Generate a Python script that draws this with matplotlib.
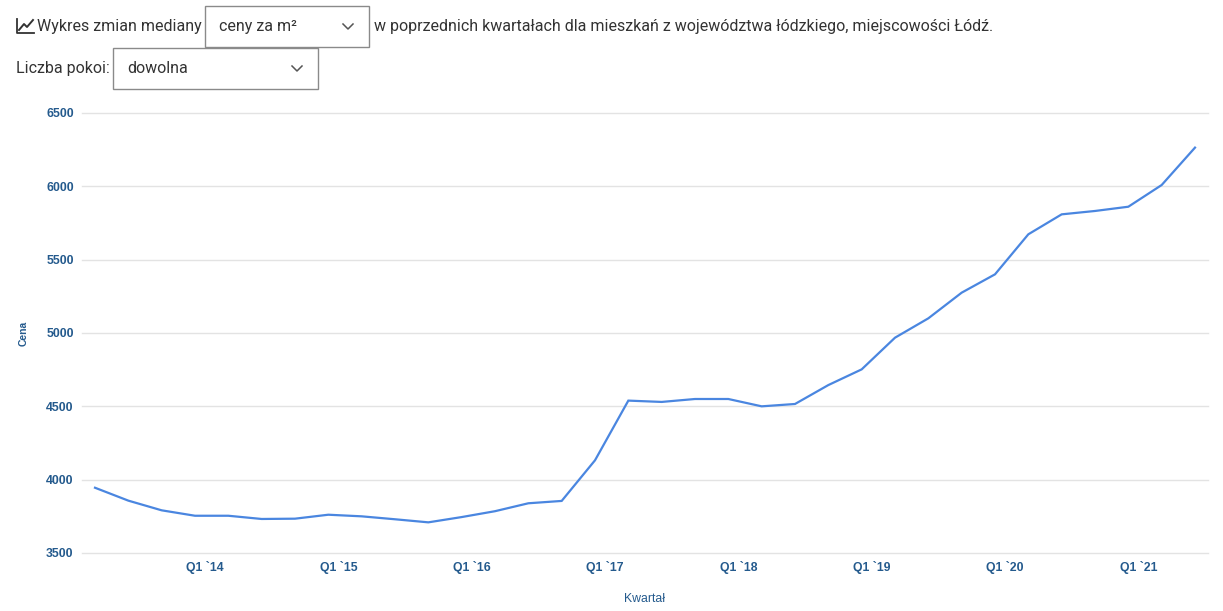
import matplotlib

matplotlib.use("Agg")
import matplotlib.pyplot as plt
from matplotlib.lines import Line2D
from matplotlib.patches import Rectangle

W, H = 1223, 611

quarters = [
    "Q2 `13", "Q3 `13", "Q4 `13",
    "Q1 `14", "Q2 `14", "Q3 `14", "Q4 `14",
    "Q1 `15", "Q2 `15", "Q3 `15", "Q4 `15",
    "Q1 `16", "Q2 `16", "Q3 `16", "Q4 `16",
    "Q1 `17", "Q2 `17", "Q3 `17", "Q4 `17",
    "Q1 `18", "Q2 `18", "Q3 `18", "Q4 `18",
    "Q1 `19", "Q2 `19", "Q3 `19", "Q4 `19",
    "Q1 `20", "Q2 `20", "Q3 `20", "Q4 `20",
    "Q1 `21", "Q2 `21", "Q3 `21",
]
median_price = [
    3945, 3857, 3791,
    3754, 3754, 3732, 3734,
    3761, 3750, 3730, 3709,
    3745, 3785, 3839, 3855,
    4132, 4539, 4530, 4550,
    4550, 4500, 4516, 4645,
    4752, 4968, 5100, 5275,
    5400, 5673, 5809, 5832,
    5861, 6009, 6264,
]
tick_labels = ["Q1 `14", "Q1 `15", "Q1 `16", "Q1 `17", "Q1 `18", "Q1 `19", "Q1 `20", "Q1 `21"]
y_ticks = [3500, 4000, 4500, 5000, 5500, 6000, 6500]

LABEL_SHIFT = 0.3
AXIS_BLUE = "#245a8d"
LINE_BLUE = "#4a86e0"
TEXT_GRAY = "#333333"
BOX_GRAY = "#8a8a8a"


def fx(px: float) -> float:
    return px / W


def fy(py: float) -> float:
    return 1 - py / H


def dropdown(fig: plt.Figure, x0: float, y0: float, x1: float, y1: float, label: str) -> None:
    fig.patches.append(
        Rectangle((fx(x0), fy(y1)), fx(x1 - x0), (y1 - y0) / H,
                  transform=fig.transFigure, fill=False, edgecolor=BOX_GRAY, linewidth=1.0)
    )
    yc = (y0 + y1) / 2
    fig.text(fx(x0 + 14), fy(yc), label, family="Roboto", fontsize=11.5,
             color=TEXT_GRAY, va="center", ha="left")
    cx = x1 - 21
    fig.add_artist(Line2D([fx(cx - 5), fx(cx), fx(cx + 5)], [fy(yc - 2.5), fy(yc + 2.5), fy(yc - 2.5)],
                          transform=fig.transFigure, color="#555555", linewidth=1.1))


fig = plt.figure(figsize=(W / 100, H / 100), dpi=100)
fig.patch.set_facecolor("white")

# header icon (trend chart)
fig.add_artist(Line2D([fx(17), fx(17), fx(34)], [fy(19), fy(33), fy(33)],
                      transform=fig.transFigure, color=TEXT_GRAY, linewidth=1.3))
fig.add_artist(Line2D([fx(19), fx(24), fx(27), fx(33)], [fy(30), fy(24), fy(27), fy(20)],
                      transform=fig.transFigure, color=TEXT_GRAY, linewidth=1.4))
fig.text(fx(37), fy(26), "Wykres zmian mediany", family="Roboto", fontsize=11.5,
         color=TEXT_GRAY, va="center", ha="left")
dropdown(fig, 205, 6, 369, 47, "ceny za m²")
fig.text(fx(374), fy(26),
         "w poprzednich kwartałach dla mieszkań z województwa łódzkiego, miejscowości Łódź.",
         family="Roboto", fontsize=11.5, color=TEXT_GRAY, va="center", ha="left")
fig.text(fx(16), fy(69), "Liczba pokoi:", family="Roboto", fontsize=11.5,
         color=TEXT_GRAY, va="center", ha="left")
dropdown(fig, 113, 48, 318, 89, "dowolna")

# chart
ax = fig.add_axes([fx(82), fy(553), fx(1208 - 82), (553 - 113) / H])
x = list(range(len(quarters)))
ax.plot(x, median_price, color=LINE_BLUE, linewidth=1.6, solid_joinstyle="miter")
ax.set_xlim(-0.39, len(quarters) - 1 + 0.39)
ax.set_ylim(y_ticks[0], y_ticks[-1])
ax.set_yticks(y_ticks)
ax.set_xticks([quarters.index(t) + LABEL_SHIFT for t in tick_labels])
ax.set_xticklabels(tick_labels)
ax.grid(axis="y", color="#e3e3e3", linewidth=1.0)
ax.set_axisbelow(True)
for spine in ax.spines.values():
    spine.set_visible(False)
ax.tick_params(axis="both", length=0, colors=AXIS_BLUE, labelsize=8.8)
ax.tick_params(axis="x", pad=6)
ax.tick_params(axis="y", pad=6)
for label in ax.get_xticklabels() + ax.get_yticklabels():
    label.set_fontweight("bold")
    label.set_family("Liberation Sans")
for gl in ax.get_ygridlines():
    gl.set_clip_on(False)

fig.text(fx(24), fy(333), "Cena", family="Liberation Sans", fontsize=7.5, fontweight="bold",
         color=AXIS_BLUE, rotation=90, va="center", ha="center")
fig.text(fx(645), fy(599), "Kwartał", family="Liberation Sans", fontsize=8.8,
         color=AXIS_BLUE, va="center", ha="center")

fig.savefig("out.png", dpi=100, facecolor="white")
